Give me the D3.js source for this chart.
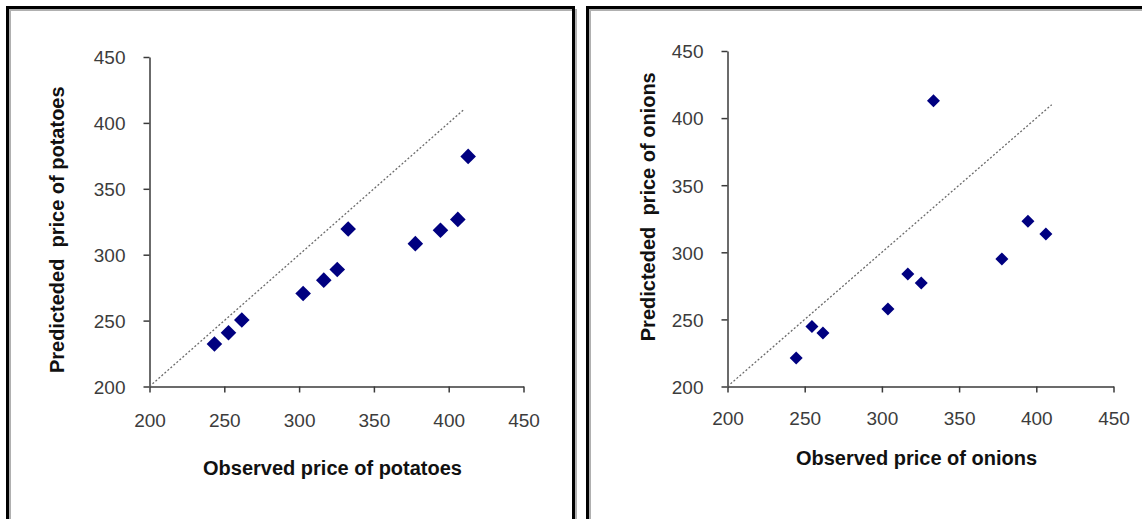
<!DOCTYPE html>
<html>
<head>
<meta charset="utf-8">
<script src="https://cdn.jsdelivr.net/npm/d3@7/dist/d3.min.js"></script>
<style>
  html, body { margin: 0; padding: 0; background: #fff; }
  svg { display: block; }
  text { font-family: "Liberation Sans", Arial, sans-serif; }
</style>
</head>
<body>
<svg id="chart" width="1142" height="519"></svg>
<script>
// ---- data ----
const axisTicks = [200, 250, 300, 350, 400, 450];
const diagonalRange = [200, 410];

const potatoObserved  = [243.4, 252.8, 261.7, 302.7, 316.5, 325.5, 332.8, 377.7, 394.5, 406.1, 413.0];
const potatoPredicted = [232.3, 240.8, 250.4, 270.6, 280.7, 288.8, 319.5, 308.4, 318.5, 326.8, 374.6];

const onionObserved   = [244.5, 254.7, 261.8, 303.9, 316.8, 325.5, 333.4, 377.7, 394.6, 406.2];
const onionPredicted  = [221.2, 244.8, 239.8, 257.8, 283.9, 277.2, 413.0, 295.1, 323.1, 313.7];

const xTitles = ["Observed price of potatoes", "Observed price of onions"];
const yTitles = ["Predicteded  price of potatoes", "Predicteded  price of onions"];

// ---- layout ----
const svg = d3.select("#chart");

const panels = [
  { frame: [7.5, 7.5, 566, 530], x0: 149.5, x1: 523.5, y0: 386.5, y1: 57,
    obs: potatoObserved, pred: potatoPredicted, xt: xTitles[0], yt: yTitles[0],
    xLabelY: 427, xTitleY: 475, yTitleX: 64, yTitleShift: 8, size: 7.8 },
  { frame: [587.5, 7.5, 570, 530], x0: 727.5, x1: 1113.5, y0: 386.5, y1: 51,
    obs: onionObserved, pred: onionPredicted, xt: xTitles[1], yt: yTitles[1],
    xLabelY: 425, xTitleY: 465, yTitleX: 655, yTitleShift: -12, size: 6.5 }
];

panels.forEach(p => {
  const [fx, fy, fw, fh] = p.frame;
  // frame with slight gray inner shadow
  svg.append("rect").attr("x", fx + 2.5).attr("y", fy + 2.5).attr("width", fw).attr("height", fh)
     .attr("fill", "none").attr("stroke", "#b0b0b0").attr("stroke-width", 2);
  svg.append("rect").attr("x", fx).attr("y", fy).attr("width", fw).attr("height", fh)
     .attr("fill", "none").attr("stroke", "#000").attr("stroke-width", 3);

  const x = d3.scaleLinear().domain([200, 450]).range([p.x0, p.x1]);
  const y = d3.scaleLinear().domain([200, 450]).range([p.y0, p.y1]);

  const gx = svg.append("g").attr("transform", `translate(0,${p.y0})`)
    .call(d3.axisBottom(x).tickValues(axisTicks).tickSize(6).tickPadding(0).tickSizeOuter(0));
  const gy = svg.append("g").attr("transform", `translate(${p.x0},0)`)
    .call(d3.axisLeft(y).tickValues(axisTicks).tickSize(6).tickPadding(18).tickSizeOuter(0));

  [gx, gy].forEach(g => {
    g.select(".domain").attr("stroke", "#3a3a3a").attr("stroke-width", 1.5);
    g.selectAll(".tick line").attr("stroke", "#3a3a3a").attr("stroke-width", 1.5);
    g.selectAll(".tick text").attr("fill", "#3c3c3c").attr("font-size", 19)
      .attr("font-family", "'Liberation Sans', Arial, sans-serif");
  });
  gx.selectAll(".tick text").attr("y", p.xLabelY - p.y0).attr("dy", 0);
  gy.selectAll(".tick text").attr("dy", "0.36em");

  // diagonal 45-degree line
  svg.append("line")
    .attr("x1", x(diagonalRange[0])).attr("y1", y(diagonalRange[0]))
    .attr("x2", x(diagonalRange[1])).attr("y2", y(diagonalRange[1]))
    .attr("stroke", "#6a6a6a").attr("stroke-width", 1.3).attr("stroke-dasharray", "2,2");

  // diamond markers
  const s = p.size;
  svg.append("g").selectAll("path").data(p.obs.map((v, i) => [v, p.pred[i]]))
    .join("path")
    .attr("d", d => `M${x(d[0])},${y(d[1]) - s}L${x(d[0]) + s},${y(d[1])}L${x(d[0])},${y(d[1]) + s}L${x(d[0]) - s},${y(d[1])}Z`)
    .attr("fill", "#000080");

  // axis titles
  svg.append("text").attr("x", (p.x0 + p.x1) / 2 - 4).attr("y", p.xTitleY)
    .attr("text-anchor", "middle").attr("font-weight", "bold").attr("font-size", 20)
    .attr("fill", "#111").style("white-space", "pre").text(p.xt);
  svg.append("text")
    .attr("transform", `translate(${p.yTitleX},${(p.y0 + p.y1) / 2 + p.yTitleShift}) rotate(-90)`)
    .attr("text-anchor", "middle").attr("font-weight", "bold").attr("font-size", 20)
    .attr("fill", "#111").style("white-space", "pre").text(p.yt);
});
</script>
</body>
</html>
